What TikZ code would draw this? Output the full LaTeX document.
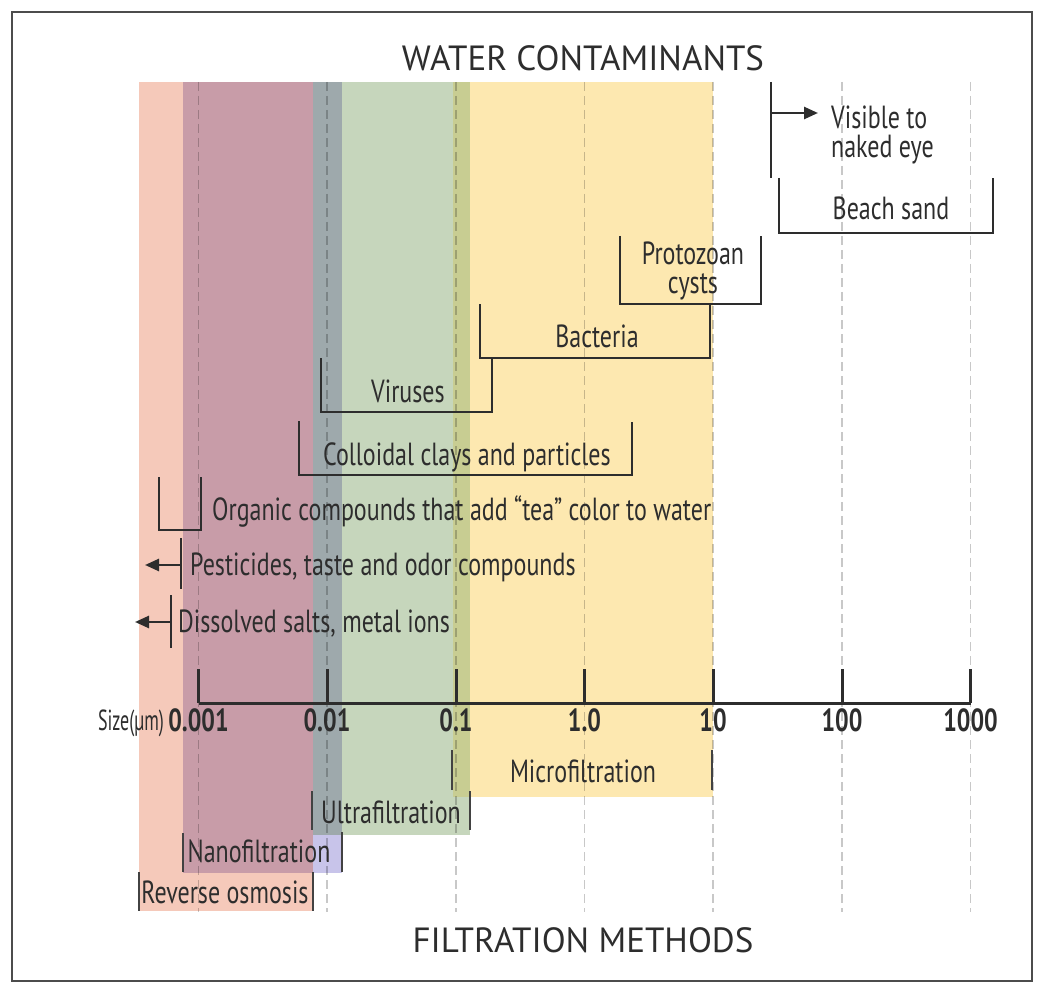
\documentclass[tikz,border=0pt]{standalone}
\usepackage{fontspec}
\setmainfont{PT Sans}
\newfontfamily\cond[FakeStretch=0.75]{PT Sans}
\newfontfamily\narrowcond[FakeStretch=0.62]{PT Sans}
\usetikzlibrary{arrows.meta}
\definecolor{salmon}{RGB}{245,201,186}
\definecolor{mauve}{RGB}{200,156,168}
\definecolor{lav}{RGB}{200,196,234}
\definecolor{grayblue}{RGB}{158,169,172}
\definecolor{ufgreen}{RGB}{198,214,188}
\definecolor{olive}{RGB}{200,205,146}
\definecolor{mfyellow}{RGB}{253,232,176}
\definecolor{ink}{RGB}{45,45,45}
\definecolor{gridc}{RGB}{200,200,200}
\tikzset{
  lab/.style={font=\cond\fontsize{32}{28}\selectfont, text=ink, inner sep=0pt},
  num/.style={font=\cond\bfseries\fontsize{32}{28}\selectfont, text=ink, inner sep=0pt},
  ttl/.style={font=\fontsize{35}{30}\selectfont, text=ink, inner sep=0pt},
  brk/.style={line width=2.5pt, draw=ink},
  fbar/.style={line width=2.5pt, draw=ink!90},
  axisline/.style={line width=3pt, draw=ink},
  gridline/.style={line width=1.5pt, draw=gridc, dash pattern=on 9pt off 5pt},
  arr/.style={brk, -{Triangle[length=14pt,width=12pt]}},
}
\begin{document}
\begin{tikzpicture}[x=1pt,y=-1pt]
\useasboundingbox (0,0) rectangle (1050,995);
% frame
\draw[line width=2pt, draw=black!70] (12,12) rectangle (1032,981);
% colour bands
\fill[salmon] (139,82) rectangle (313,911);
\fill[mauve] (183,82) rectangle (313,873);
\fill[lav] (313,82) rectangle (342,873);
\fill[grayblue] (313,82) rectangle (342,835);
\fill[ufgreen] (342,82) rectangle (470,835);
\fill[olive] (453,82) rectangle (470,797);
\fill[mfyellow] (470,82) rectangle (713,797);
% grid
\begin{scope}[blend mode=multiply]
\foreach \x in {198.5,327,456,584.5,713,842,970.5}
  \draw[gridline] (\x,82) -- (\x,912);
\end{scope}
% titles
\node[ttl, anchor=mid] (t1) at (583,68) {WATER CONTAMINANTS};
\node[ttl, anchor=mid] (t2) at (583,950) {FILTRATION METHODS};
% contaminants
\coordinate (visA) at (771,113);
\coordinate (visB) at (818,113);
\draw[brk] (771,82) -- (771,178);
\draw[arr] (visA) -- (visB);
\node[lab, anchor=base west] (vis1) at (831,129) {Visible to};
\node[lab, anchor=base west] (vis2) at (831,158) {naked eye};
\draw[brk] (779,178) -- (779,233) -- (993,233) -- (993,178);
\node[lab, anchor=mid] (beach) at (891,217) {Beach sand};
\draw[brk] (620,236) -- (620,304) -- (761,304) -- (761,236);
\node[lab, anchor=base] (proto1) at (693,265) {Protozoan};
\node[lab, anchor=base] (proto2) at (693,294) {cysts};
\draw[brk] (480,304) -- (480,358) -- (710,358) -- (710,304);
\node[lab, anchor=mid] (bact) at (597,345) {Bacteria};
\draw[brk] (321,358) -- (321,412) -- (492,412) -- (492,358);
\node[lab, anchor=mid] (vir) at (408,400) {Viruses};
\draw[brk] (299,421) -- (299,475) -- (632,475) -- (632,422);
\node[lab, anchor=mid] (coll) at (467,463) {Colloidal clays and particles};
\draw[brk] (159,477) -- (159,530) -- (201,530) -- (201,477);
\node[lab, anchor=mid west] (org) at (212,518) {Organic compounds that add “tea” color to water};
\coordinate (pA) at (181,565);
\coordinate (pB) at (145,565);
\draw[brk] (181,538) -- (181,589);
\draw[arr] (pA) -- (pB);
\node[lab, anchor=mid west] (pest) at (190,573) {Pesticides, taste and odor compounds};
\coordinate (sA) at (171,622);
\coordinate (sB) at (135,622);
\draw[brk] (171,595) -- (171,648);
\draw[arr] (sA) -- (sB);
\node[lab, anchor=mid west] (salt) at (178,630) {Dissolved salts, metal ions};
% axis
\draw[axisline] (198.5,703) -- (970.5,703);
\foreach \x/\t in {198.5/0.001,327/0.01,456/0.1,584.5/1.0,713/10,842/100,970.5/1000}{
  \draw[axisline] (\x,669) -- (\x,703);
  \node[num, anchor=mid] at (\x,729) {\t};
}
\node[lab, anchor=mid, font=\narrowcond\fontsize{29}{28}\selectfont] (size) at (131,728) {Size(µm)};
% filtration methods
\draw[fbar] (452,750) -- (452,790);
\draw[fbar] (712,750) -- (712,790);
\node[lab, anchor=mid] (micro) at (583,780) {Microfiltration};
\draw[fbar] (312,791) -- (312,830);
\draw[fbar] (470,791) -- (470,830);
\node[lab, anchor=mid] (ultra) at (391,821) {Ultrafiltration};
\draw[fbar] (183,833) -- (183,872);
\draw[fbar] (342,832) -- (342,872);
\node[lab, anchor=mid] (nano) at (259,860) {Nanofiltration};
\draw[fbar] (139,872) -- (139,911);
\draw[fbar] (313,872) -- (313,911);
\node[lab, anchor=mid] (ro) at (225,901) {Reverse osmosis};
\end{tikzpicture}
\end{document}
